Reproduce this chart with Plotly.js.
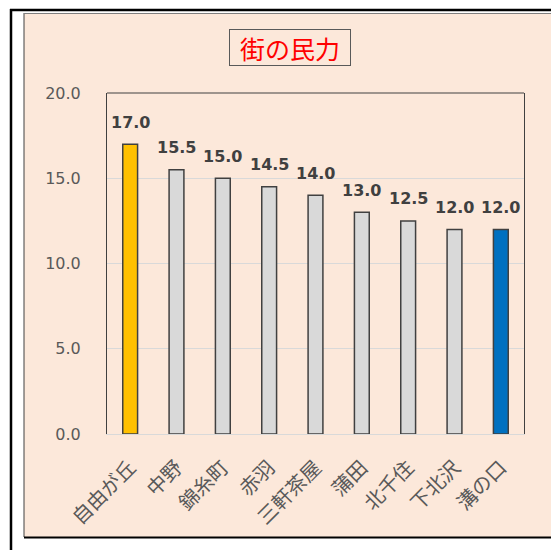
<!DOCTYPE html>
<html>
<head>
<meta charset="utf-8">
<script src="https://cdn.plot.ly/plotly-3.0.1.min.js"></script>
<style>html,body{margin:0;padding:0;background:#fff;}#chart{width:551px;height:550px;}</style>
</head>
<body>
<div id="chart"></div>
<script>
// ---- data ----
const categories = ["自由が丘", "中野", "錦糸町", "赤羽", "三軒茶屋", "蒲田", "北千住", "下北沢", "溝の口"];
const values = [17.0, 15.5, 15.0, 14.5, 14.0, 13.0, 12.5, 12.0, 12.0];
const yTickVals = [0, 5, 10, 15, 20];
const yTickText = ["0.0", "5.0", "10.0", "15.0", "20.0"];
const chartTitle = "街の民力";

// ---- styles ----
const barColors = ["#FFC000", "#D9D9D9", "#D9D9D9", "#D9D9D9", "#D9D9D9", "#D9D9D9", "#D9D9D9", "#D9D9D9", "#0070C0"];
const peach = "#FCE8DA";
const W = 551, H = 550;
const M = {l: 107, r: 27, t: 93, b: 116};
const PW = W - M.l - M.r, PH = H - M.t - M.b;
const px = x => (x - M.l) / PW;
const py = y => (H - M.b - y) / PH;

const trace = {
  type: "bar",
  x: categories,
  y: values,
  width: 0.32,
  marker: {color: barColors, line: {color: "#404040", width: 1.5}},
  hoverinfo: "none"
};

const labelAnns = categories.map((c, i) => ({
  x: c, y: values[i], xref: "x", yref: "y",
  text: values[i].toFixed(1), showarrow: false,
  yanchor: "middle", yshift: 22,
  font: {family: "DejaVu Sans", size: 16, color: "#404040", weight: "bold"}
}));

const titleAnn = {
  xref: "paper", yref: "paper", x: px(289.5), y: py(47.5),
  xanchor: "center", yanchor: "middle",
  text: chartTitle, showarrow: false,
  width: 120, height: 35, align: "center", valign: "middle",
  font: {family: "Noto Sans CJK JP", size: 25, color: "#FF0000"},
  bordercolor: "#595959", borderwidth: 1, borderpad: 0, bgcolor: peach
};

const shapes = [
  // peach panel
  {type: "rect", xref: "paper", yref: "paper", x0: px(24), x1: px(560), y0: py(537), y1: py(13),
   fillcolor: peach, line: {width: 0}, layer: "below"},
  // panel borders
  {type: "line", xref: "paper", yref: "paper", x0: px(24), x1: px(24), y0: py(13), y1: py(537),
   line: {color: "#404040", width: 1}},
  {type: "line", xref: "paper", yref: "paper", x0: px(24), x1: px(560), y0: py(13.5), y1: py(13.5),
   line: {color: "#7f7f7f", width: 1}},
  {type: "line", xref: "paper", yref: "paper", x0: px(24), x1: px(560), y0: py(537.5), y1: py(537.5),
   line: {color: "#000000", width: 2}},
  // outer black frame
  {type: "line", xref: "paper", yref: "paper", x0: px(11), x1: px(11), y0: py(9), y1: py(560),
   line: {color: "#000000", width: 2.5}},
  {type: "line", xref: "paper", yref: "paper", x0: px(10), x1: px(560), y0: py(10), y1: py(10),
   line: {color: "#000000", width: 2.5}},
  // plot area top line
  {type: "line", xref: "paper", yref: "paper", x0: 0, x1: 1, y0: 1, y1: 1,
   line: {color: "#404040", width: 1}}
];

const layout = {
  width: W, height: H,
  margin: M,
  paper_bgcolor: "#FFFFFF",
  plot_bgcolor: "rgba(0,0,0,0)",
  showlegend: false,
  xaxis: {
    type: "category",
    tickangle: -45,
    tickfont: {family: "Noto Sans CJK JP", size: 20, color: "#595959"},
    showline: true, linecolor: "#D9D9D9", linewidth: 1,
    ticks: "", showgrid: false, zeroline: false,
    ticklabelstandoff: 13,
    fixedrange: true
  },
  yaxis: {
    range: [0, 20],
    tickvals: yTickVals, ticktext: yTickText,
    tickfont: {family: "DejaVu Sans", size: 16, color: "#595959"},
    showgrid: true, gridcolor: "#D9D9D9", gridwidth: 1,
    zeroline: false,
    showline: true, mirror: true, linecolor: "#404040", linewidth: 1,
    ticks: "", ticklabelstandoff: 22,
    fixedrange: true
  },
  shapes: shapes,
  annotations: [titleAnn].concat(labelAnns)
};

Plotly.newPlot("chart", [trace], layout, {displayModeBar: false, staticPlot: true});
</script>
</body>
</html>
